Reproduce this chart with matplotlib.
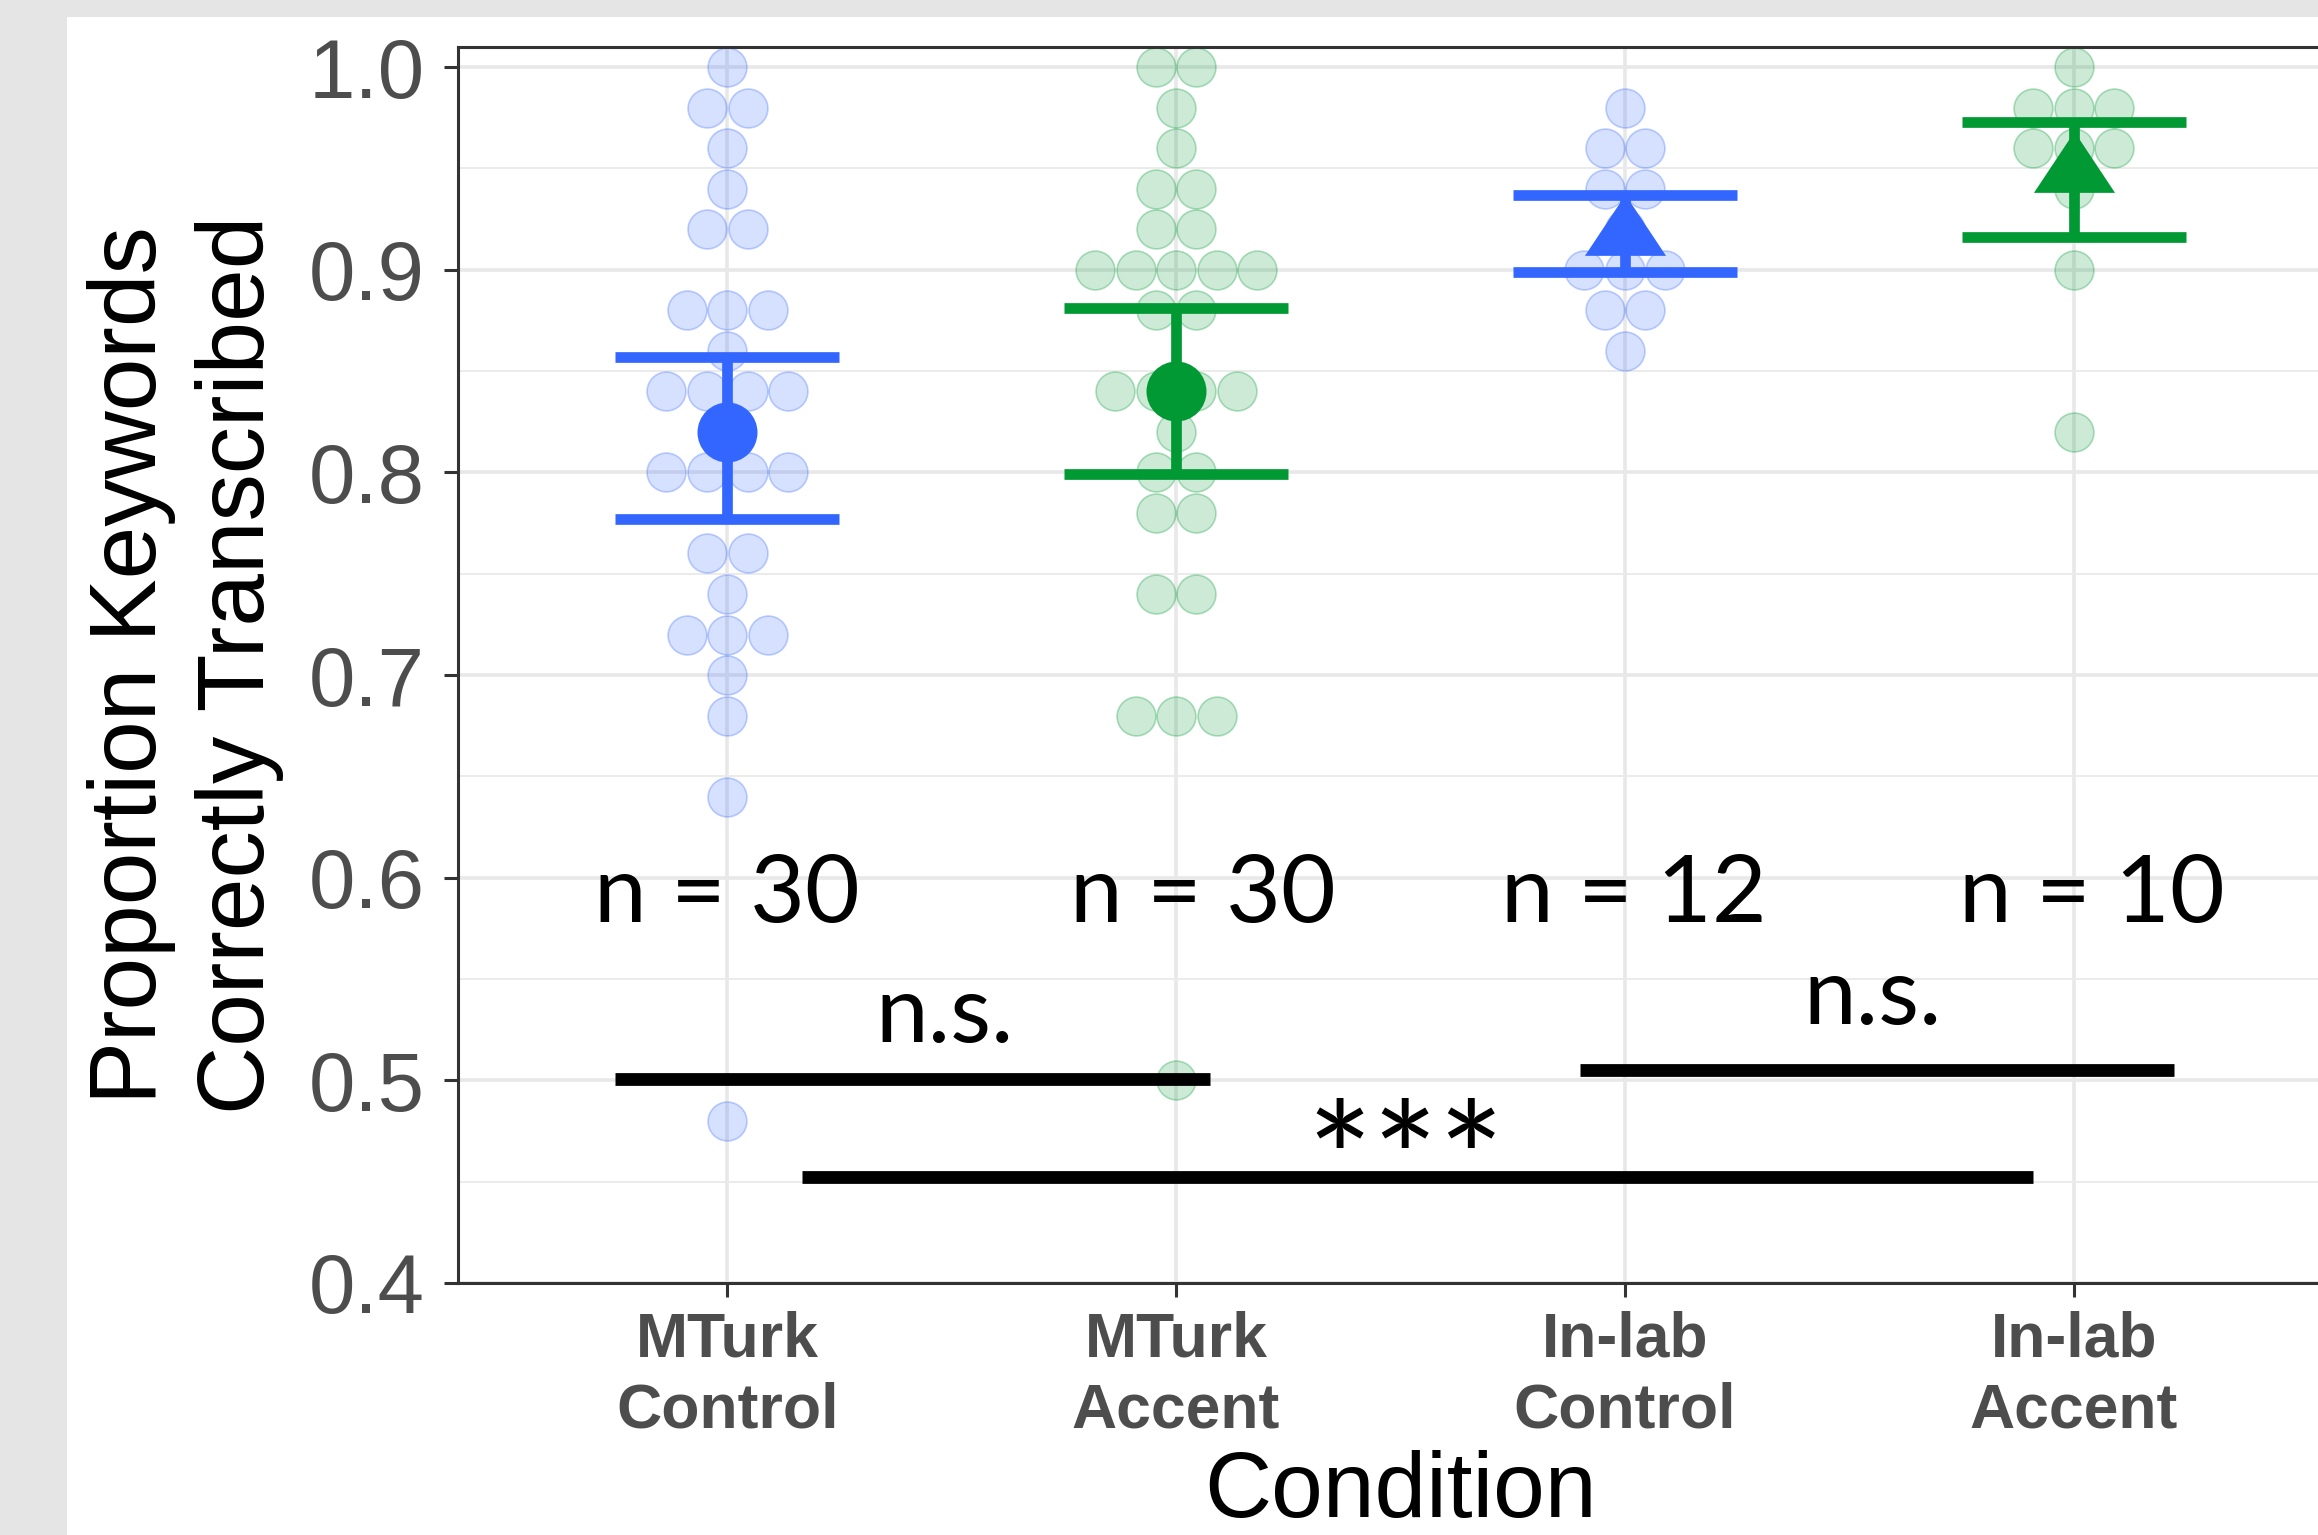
import matplotlib
import matplotlib.pyplot as plt
import numpy as np
from matplotlib.patches import Rectangle

matplotlib.use("Agg")

conditions = ["MTurk\nControl", "MTurk\nAccent", "In-lab\nControl", "In-lab\nAccent"]
group_colors = ["#3366FF", "#009933", "#3366FF", "#009933"]
mean_shapes = ["circle", "circle", "triangle", "triangle"]

# individual participants (proportion correct)
mturk_control = [1.00, 0.98, 0.98, 0.96, 0.94, 0.92, 0.92, 0.88, 0.88, 0.88,
                 0.86, 0.84, 0.84, 0.84, 0.84, 0.82, 0.80, 0.80, 0.80, 0.80,
                 0.76, 0.76, 0.74, 0.72, 0.72, 0.72, 0.70, 0.68, 0.64, 0.48]
mturk_accent = [1.00, 1.00, 0.98, 0.96, 0.94, 0.94, 0.92, 0.92, 0.90, 0.90,
                0.90, 0.90, 0.90, 0.88, 0.88, 0.84, 0.84, 0.84, 0.84, 0.82,
                0.80, 0.80, 0.78, 0.78, 0.74, 0.74, 0.68, 0.68, 0.68, 0.50]
inlab_control = [0.98, 0.96, 0.96, 0.94, 0.94, 0.92, 0.90, 0.90, 0.90, 0.88, 0.88, 0.86]
inlab_accent = [1.00, 0.98, 0.98, 0.98, 0.96, 0.96, 0.96, 0.94, 0.90, 0.82]
groups = [mturk_control, mturk_accent, inlab_control, inlab_accent]

means = [0.82, 0.84, 0.917, 0.948]
ci_low = [0.777, 0.799, 0.899, 0.916]
ci_high = [0.857, 0.881, 0.937, 0.973]

n_labels = ["n = 30", "n = 30", "n = 12", "n = 10"]
n_label_x = [1.0, 2.06, 3.02, 4.04]
n_label_y = 0.578

sig_x_start = [0.75, 2.90, 1.167]
sig_x_end = [2.076, 4.224, 3.909]
sig_y = [0.5007, 0.5049, 0.4523]
sig_text = ["n.s.", "n.s.", "***"]
sig_text_x = [1.484, 3.551, 2.511]
sig_text_y = [0.519, 0.5278, 0.4335]

W, H = 2318, 1535
BINWIDTH = 0.02

fig = plt.figure(figsize=(W / 100, H / 100), dpi=100)
fig.patch.set_facecolor("#e5e5e5")
fig.patches.append(Rectangle((67 / W, 0), 1, 1 - 17 / H, transform=fig.transFigure,
                             facecolor="white", edgecolor="none", zorder=-10))

ax = fig.add_axes([458 / W, 252 / H, 1885 / W, 1236 / H])
ax.set_xlim(0.4, 4.6)
ax.set_ylim(0.4, 1.0099)

# dot size follows the binwidth, like a centred dotplot
y_px = 1236 / (1.0099 - 0.4)
x_px = 1885 / 4.2
dot_px = BINWIDTH * y_px
dot_dx = dot_px / x_px
dot_pt = dot_px * 0.72

for i, (vals, color) in enumerate(zip(groups, group_colors)):
    xc = i + 1
    bins = np.round(np.array(vals) / BINWIDTH).astype(int)
    xs, ys = [], []
    for b in sorted(set(bins)):
        k = int(np.sum(bins == b))
        offs = (np.arange(k) - (k - 1) / 2) * dot_dx
        xs.extend(xc + offs)
        ys.extend([b * BINWIDTH] * k)
    ax.scatter(xs, ys, s=(dot_pt - 1.2) ** 2, facecolor=matplotlib.colors.to_rgba(color, 0.2),
               edgecolor=matplotlib.colors.to_rgba(color, 0.3), linewidth=1.2, zorder=2)

xpos = np.arange(1, len(conditions) + 1)
ax.vlines(xpos, ci_low, ci_high, colors=group_colors, linewidth=7.7, zorder=3)
ax.hlines(ci_low, xpos - 0.25, xpos + 0.25, colors=group_colors, linewidth=7.7, zorder=3)
ax.hlines(ci_high, xpos - 0.25, xpos + 0.25, colors=group_colors, linewidth=7.7, zorder=3)

tri = [(0, 1.555), (1.549, -0.778), (-1.549, -0.778)]
for x, m, color, shape in zip(xpos, means, group_colors, mean_shapes):
    if shape == "circle":
        ax.plot(x, m, marker="o", markersize=43.2, color=color, markeredgewidth=0, zorder=4)
    else:
        ax.plot(x, m, marker=tri, markersize=58.6, color=color, markeredgewidth=0, zorder=4)

# annotations
for lab, x in zip(n_labels, n_label_x):
    ax.text(x, n_label_y, lab, ha="center", va="baseline", fontsize=68,
            family="Lato", color="black", zorder=5)
ax.hlines(sig_y, sig_x_start, sig_x_end, colors="black", linewidth=9.2, zorder=5)
for lab, x, y in zip(sig_text, sig_text_x, sig_text_y):
    size = 112 if lab == "***" else 68
    ax.text(x, y, lab, ha="center", va="baseline", fontsize=size,
            family="Lato", color="black", zorder=5)

# axes styling
ax.set_xticks(xpos)
ax.set_xticklabels(conditions, fontsize=45, fontweight="bold", color="#4d4d4d",
                   family="Liberation Sans", linespacing=1.25)
ax.set_yticks(np.arange(0.4, 1.01, 0.1))
ax.set_yticklabels([f"{v:.1f}" for v in np.arange(0.4, 1.01, 0.1)], fontsize=60,
                   color="#4d4d4d", family="Liberation Sans")
ax.set_yticks(np.arange(0.45, 1.0, 0.1), minor=True)
ax.tick_params(axis="y", which="major", length=10, width=2.2, color="#333333", pad=13.7)
ax.tick_params(axis="y", which="minor", length=0)
ax.tick_params(axis="x", which="major", length=10, width=2.2, color="#333333", pad=10)
ax.grid(which="major", color="#e8e8e8", linewidth=2.6)
ax.grid(which="minor", axis="y", color="#ebebeb", linewidth=1.4)
ax.set_axisbelow(True)
for side in ["left", "bottom", "top"]:
    ax.spines[side].set_linewidth(2.2)
    ax.spines[side].set_color("#333333")
ax.spines["right"].set_visible(False)

ax.set_ylabel("Proportion Keywords\nCorrectly Transcribed", fontsize=68,
              family="Liberation Sans", color="black", labelpad=18, linespacing=1.28)
ax.set_xlabel("Condition", fontsize=67, family="Liberation Sans", color="black", labelpad=7)

fig.savefig("out.png", dpi=100, facecolor=fig.get_facecolor())
